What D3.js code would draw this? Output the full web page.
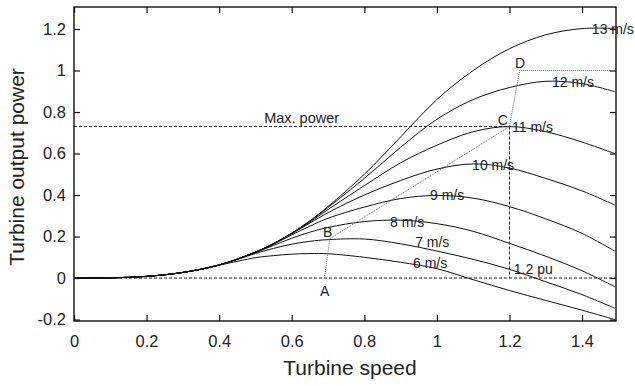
<!DOCTYPE html>
<html>
<head>
<meta charset="utf-8">
<script src="https://cdn.jsdelivr.net/npm/d3@7"></script>
<style>
  body { margin: 0; background: #fff; }
  text { font-family: "Liberation Sans", Arial, sans-serif; fill: #222; }
</style>
</head>
<body>
<div id="chart"></div>
<script>
// turbine speed samples (pu) shared by every curve
const speed = [0, 0.1, 0.2, 0.3, 0.4, 0.5, 0.55, 0.6, 0.65, 0.7, 0.8, 0.9, 1.0, 1.1, 1.2, 1.3, 1.4, 1.49];

// output power, one array per wind speed
const p6  = [0, 0.001, 0.008, 0.027, 0.062, 0.098, 0.108, 0.115, 0.118, 0.117, 0.100, 0.076, 0.045, -0.008, -0.060, -0.108, -0.155, -0.200];
const p7  = [0, 0.001, 0.008, 0.027, 0.063, 0.118, 0.143, 0.163, 0.177, 0.185, 0.188, 0.165, 0.130, 0.090, 0.042, -0.018, -0.080, -0.145];
const p8  = [0, 0.001, 0.008, 0.027, 0.063, 0.123, 0.157, 0.192, 0.221, 0.244, 0.272, 0.279, 0.262, 0.225, 0.167, 0.105, 0.035, -0.042];
const p9  = [0, 0.001, 0.008, 0.027, 0.063, 0.124, 0.163, 0.208, 0.250, 0.288, 0.342, 0.383, 0.398, 0.385, 0.344, 0.285, 0.215, 0.130];
const p10 = [0, 0.001, 0.008, 0.027, 0.063, 0.125, 0.165, 0.213, 0.265, 0.315, 0.400, 0.470, 0.525, 0.550, 0.530, 0.480, 0.420, 0.352];
const p11 = [0, 0.001, 0.008, 0.027, 0.063, 0.125, 0.166, 0.215, 0.270, 0.330, 0.445, 0.555, 0.640, 0.705, 0.730, 0.705, 0.655, 0.600];
const p12 = [0, 0.001, 0.008, 0.027, 0.063, 0.125, 0.166, 0.216, 0.273, 0.340, 0.480, 0.630, 0.765, 0.860, 0.918, 0.948, 0.937, 0.898];
const p13 = [0, 0.001, 0.008, 0.027, 0.063, 0.125, 0.166, 0.216, 0.276, 0.345, 0.500, 0.680, 0.860, 1.000, 1.105, 1.172, 1.202, 1.203];

const windNames = ['6 m/s', '7 m/s', '8 m/s', '9 m/s', '10 m/s', '11 m/s', '12 m/s', '13 m/s'];
const powers = [p6, p7, p8, p9, p10, p11, p12, p13];
// where each curve label sits (speed, power)
const labelX = [0.934, 0.940, 0.871, 0.981, 1.097, 1.207, 1.317, 1.427];
const labelY = [0.048, 0.151, 0.247, 0.376, 0.520, 0.704, 0.920, 1.176];

// operating path A-B-C-D and the rated-power line
const pathX = [0.69, 0.705, 1.2, 1.228, 1.5];
const pathY = [0, 0.19, 0.73, 1.0, 1.0];
const pointNames = ['A', 'B', 'C', 'D'];
const pointLabelX = [0.678, 0.686, 1.168, 1.215];
const pointLabelY = [-0.087, 0.199, 0.737, 1.012];

const maxPower = 0.73;
const ratedSpeed = 1.2;

const xTicks = [0, 0.2, 0.4, 0.6, 0.8, 1, 1.2, 1.4];
const yTicks = [-0.2, 0, 0.2, 0.4, 0.6, 0.8, 1, 1.2];

const W = 635, H = 386;
const margin = {top: 7, right: 19, bottom: 65, left: 74};
const width = W - margin.left - margin.right;
const height = H - margin.top - margin.bottom;

const svg = d3.select('#chart')
  .append('svg')
  .attr('width', W)
  .attr('height', H);

const g = svg.append('g')
  .attr('transform', 'translate(' + margin.left + ',' + margin.top + ')');

const x = d3.scaleLinear().domain([0, 1.4935]).range([0, width]);
const y = d3.scaleLinear().domain([-0.207, 1.306]).range([height, 0]);

svg.append('defs').append('clipPath').attr('id', 'plot')
  .append('rect').attr('width', width).attr('height', height);

// plain hyphen for negatives, like the original
const fmt = d => String(+d.toFixed(1));

// axes with inward ticks on all four sides
const tickLen = 6;
g.append('g').attr('class', 'x-axis')
  .attr('transform', 'translate(0,' + height + ')')
  .call(d3.axisBottom(x).tickValues(xTicks).tickFormat(fmt).tickSizeInner(-tickLen).tickSizeOuter(0).tickPadding(14));
g.append('g').attr('class', 'x-top')
  .call(d3.axisTop(x).tickValues(xTicks).tickFormat('').tickSizeInner(-tickLen).tickSizeOuter(0));
g.append('g').attr('class', 'y-axis')
  .call(d3.axisLeft(y).tickValues(yTicks).tickFormat(fmt).tickSizeInner(-tickLen).tickSizeOuter(0).tickPadding(8));
g.append('g').attr('class', 'y-right')
  .attr('transform', 'translate(' + width + ',0)')
  .call(d3.axisRight(y).tickValues(yTicks).tickFormat('').tickSizeInner(-tickLen).tickSizeOuter(0));

g.selectAll('.domain').remove();
g.selectAll('.tick line').attr('stroke', '#111').attr('stroke-width', 1.2);
g.selectAll('.x-axis text, .y-axis text')
  .attr('font-size', 16.5)
  .attr('font-family', '"Liberation Sans", Arial, sans-serif')
  .attr('fill', '#222');

const plot = g.append('g').attr('clip-path', 'url(#plot)');

// reference lines
plot.append('line')
  .attr('x1', x(0)).attr('x2', x(1.5))
  .attr('y1', y(0)).attr('y2', y(0))
  .attr('stroke', '#222').attr('stroke-dasharray', '3,2');
plot.append('line')
  .attr('x1', x(0)).attr('x2', x(ratedSpeed))
  .attr('y1', y(maxPower)).attr('y2', y(maxPower))
  .attr('stroke', '#222').attr('stroke-dasharray', '3,2');
plot.append('line')
  .attr('x1', x(ratedSpeed)).attr('x2', x(ratedSpeed))
  .attr('y1', y(maxPower)).attr('y2', y(0))
  .attr('stroke', '#222').attr('stroke-dasharray', '3,2');

// power curves
const line = d3.line()
  .x((d, i) => x(speed[i]))
  .y(d => y(d))
  .curve(d3.curveCatmullRom.alpha(0.5));

plot.selectAll('.curve')
  .data(powers)
  .enter().append('path')
  .attr('class', 'curve')
  .attr('fill', 'none')
  .attr('stroke', '#111')
  .attr('stroke-width', 1)
  .attr('d', line);

// operating path
const opLine = d3.line()
  .x((d, i) => x(pathX[i]))
  .y(d => y(d));
plot.append('path')
  .datum(pathY)
  .attr('fill', 'none')
  .attr('stroke', '#666')
  .attr('stroke-width', 1)
  .attr('stroke-dasharray', '1,1')
  .attr('d', opLine);

// frame
g.append('rect')
  .attr('width', width).attr('height', height)
  .attr('fill', 'none').attr('stroke', '#111').attr('stroke-width', 1.4);

// curve labels
g.selectAll('.wlabel')
  .data(windNames)
  .enter().append('text')
  .attr('class', 'wlabel')
  .attr('x', (d, i) => x(labelX[i]))
  .attr('y', (d, i) => y(labelY[i]))
  .attr('font-size', 14)
  .text(d => d);

g.selectAll('.plabel')
  .data(pointNames)
  .enter().append('text')
  .attr('class', 'plabel')
  .attr('x', (d, i) => x(pointLabelX[i]))
  .attr('y', (d, i) => y(pointLabelY[i]))
  .attr('font-size', 14)
  .text(d => d);

g.append('text')
  .attr('x', x(0.524)).attr('y', y(0.747))
  .attr('font-size', 14.5)
  .text('Max. power');

g.append('text')
  .attr('x', x(1.212)).attr('y', y(0.019))
  .attr('font-size', 14)
  .text('1.2 pu');

// axis titles
svg.append('text')
  .attr('x', 350).attr('y', 375)
  .attr('text-anchor', 'middle')
  .attr('font-size', 21)
  .text('Turbine speed');

svg.append('text')
  .attr('transform', 'translate(24,' + (margin.top + height / 2 + 3) + ') rotate(-90)')
  .attr('text-anchor', 'middle')
  .attr('font-size', 21)
  .text('Turbine output power');
</script>
</body>
</html>
